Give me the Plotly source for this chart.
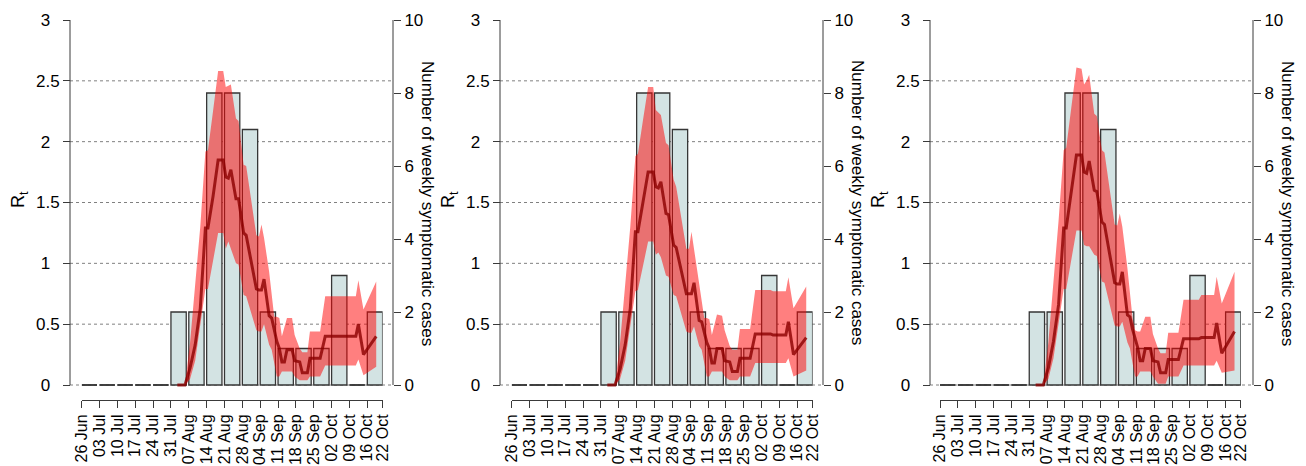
import plotly.graph_objects as go


# ======================================================
# Data  (x positions are days since 26 Jun)
# ======================================================
TICK_DAYS = [0, 7, 14, 21, 28, 35, 42, 49, 56, 63, 70, 77, 84, 91, 98, 105, 112, 118]
TICK_LABELS = ["26 Jun", "03 Jul", "10 Jul", "17 Jul", "24 Jul", "31 Jul", "07 Aug",
               "14 Aug", "21 Aug", "28 Aug", "04 Sep", "11 Sep", "18 Sep", "25 Sep",
               "02 Oct", "09 Oct", "16 Oct", "22 Oct"]

WEEK_START = [0, 7, 14, 21, 28, 35, 42, 49, 56, 63, 70, 77, 84, 91, 98, 105, 112]
WEEKLY_CASES = [0, 0, 0, 0, 0, 2, 2, 8, 8, 7, 2, 1, 1, 1, 3, 0, 2]

RT_DAYS = [37.5, 40.5, 42.5, 44.5, 46.5, 48.5, 49.5, 51.5, 53.5, 55.5, 56.5, 57.5,
           58.5, 60.5, 61.5, 63.5, 64.5, 68.5, 69.5, 70.5, 71.5, 73.5, 74.5, 75.5,
           76.5, 77.5, 78.5, 79.5, 80.5, 82.5, 83.5, 85.5, 86.5, 88.5, 89.5, 93.5,
           95.5, 101.5, 102.5, 107.5, 108.5, 110.5, 115.5]

RT_MEAN_1 = [0, 0, 0.14, 0.33, 0.63, 1.29, 1.29, 1.55, 1.85, 1.85, 1.71, 1.70,
             1.77, 1.53, 1.53, 1.25, 1.23, 0.79, 0.78, 0.78, 0.87, 0.57, 0.55, 0.45,
             0.36, 0.30, 0.19, 0.19, 0.29, 0.29, 0.20, 0.19, 0.10, 0.10, 0.22, 0.22,
             0.40, 0.40, 0.40, 0.40, 0.50, 0.25, 0.40]
RT_HIGH_1 = [0, 0, 0.35, 0.80, 1.30, 1.92, 1.93, 2.25, 2.58, 2.58, 2.45, 2.46,
             2.47, 2.19, 2.17, 1.81, 1.80, 1.23, 1.22, 1.32, 1.21, 0.93, 0.75, 0.56,
             0.56, 0.55, 0.40, 0.48, 0.55, 0.55, 0.41, 0.30, 0.27, 0.27, 0.44, 0.44,
             0.73, 0.73, 0.73, 0.73, 0.86, 0.62, 0.85]
RT_LOW_1 = [0, 0, 0.05, 0.20, 0.50, 0.79, 0.79, 1.02, 1.25, 1.25, 1.12, 1.18,
            1.12, 1.00, 0.99, 0.74, 0.73, 0.45, 0.44, 0.44, 0.50, 0.33, 0.29, 0.18,
            0.07, 0.07, 0.11, 0.11, 0.11, 0.11, 0.07, 0.04, 0.04, 0.04, 0.07, 0.07,
            0.16, 0.16, 0.16, 0.16, 0.21, 0.08, 0.15]

RT_MEAN_2 = [0, 0, 0.13, 0.33, 0.63, 1.26, 1.26, 1.50, 1.75, 1.75, 1.63, 1.62,
             1.67, 1.41, 1.40, 1.15, 1.13, 0.75, 0.75, 0.75, 0.84, 0.53, 0.52, 0.43,
             0.35, 0.30, 0.18, 0.18, 0.30, 0.30, 0.20, 0.19, 0.11, 0.11, 0.22, 0.22,
             0.42, 0.42, 0.41, 0.41, 0.52, 0.25, 0.39]
RT_HIGH_2 = [0, 0, 0.35, 0.80, 1.30, 1.88, 1.90, 2.18, 2.45, 2.45, 2.26, 2.24,
             2.22, 1.99, 1.97, 1.69, 1.63, 1.12, 1.12, 1.26, 1.12, 0.87, 0.70, 0.55,
             0.55, 0.54, 0.41, 0.50, 0.58, 0.57, 0.45, 0.32, 0.29, 0.29, 0.46, 0.46,
             0.78, 0.78, 0.77, 0.77, 0.885, 0.63, 0.81]
RT_LOW_2 = [0, 0, 0.05, 0.20, 0.48, 0.77, 0.78, 0.98, 1.18, 1.18, 1.07, 1.09,
            1.05, 0.90, 0.89, 0.74, 0.73, 0.44, 0.43, 0.43, 0.48, 0.32, 0.29, 0.18,
            0.07, 0.07, 0.11, 0.11, 0.11, 0.11, 0.07, 0.04, 0.04, 0.04, 0.07, 0.07,
            0.18, 0.18, 0.18, 0.18, 0.22, 0.07, 0.12]

RT_MEAN_3 = [0, 0, 0.14, 0.36, 0.66, 1.29, 1.29, 1.60, 1.89, 1.89, 1.75, 1.74,
             1.84, 1.60, 1.59, 1.34, 1.32, 0.84, 0.83, 0.83, 0.93, 0.575, 0.56, 0.46,
             0.38, 0.31, 0.20, 0.20, 0.30, 0.30, 0.20, 0.19, 0.10, 0.10, 0.21, 0.21,
             0.38, 0.38, 0.39, 0.39, 0.51, 0.26, 0.44]
RT_HIGH_3 = [0, 0, 0.35, 0.82, 1.35, 1.93, 1.95, 2.28, 2.61, 2.60, 2.47, 2.50,
             2.55, 2.23, 2.21, 1.93, 1.91, 1.32, 1.31, 1.41, 1.30, 0.96, 0.75, 0.55,
             0.45, 0.44, 0.44, 0.50, 0.56, 0.56, 0.42, 0.30, 0.26, 0.26, 0.43, 0.43,
             0.70, 0.70, 0.74, 0.74, 0.89, 0.67, 0.93]
RT_LOW_3 = [0, 0, 0.05, 0.22, 0.50, 0.79, 0.79, 1.03, 1.27, 1.27, 1.15, 1.14,
            1.14, 1.07, 1.06, 0.85, 0.84, 0.49, 0.48, 0.48, 0.52, 0.35, 0.30, 0.18,
            0.07, 0.07, 0.11, 0.11, 0.11, 0.11, 0.07, 0.01, 0.01, 0.01, 0.07, 0.07,
            0.16, 0.16, 0.16, 0.16, 0.20, 0.10, 0.12]

RT_TICKS = [0, 0.5, 1, 1.5, 2, 2.5, 3]
RT_GRID = [0, 0.5, 1, 1.5, 2, 2.5]
CASE_TICKS = [0, 2, 4, 6, 8, 10]

PANELS = [
    (RT_MEAN_1, RT_LOW_1, RT_HIGH_1),
    (RT_MEAN_2, RT_LOW_2, RT_HIGH_2),
    (RT_MEAN_3, RT_LOW_3, RT_HIGH_3),
]


# ======================================================
# Geometry (pixels of the 1306 x 466 page)
# ======================================================
W, H = 1306, 466
PANEL_OFFSET = [0, 430, 860]
X_SHIFT = [0, 0, -1.7]
Y_TOP, Y_ZERO = 20, 385          # pixel rows of R=3 and R=0
RT_MAX, RT_MIN = 3.0, -0.03
CASE_MAX, CASE_MIN = 10.0, -0.1
PX_PER_RT = (Y_ZERO - Y_TOP) / RT_MAX
Y_BOTTOM = Y_ZERO - RT_MIN * PX_PER_RT

BAR_FILL = "#d3e3e3"
BAR_EDGE = "#363636"
RIBBON = "rgba(255,0,0,0.5)"
LINE = "rgba(139,0,0,0.8)"
AXIS = "#3a3a3a"
FONT = "Liberation Sans, Arial, sans-serif"
NBSP = "\u00a0"


def px(x):
    return x / W


def py(y):
    return 1 - y / H


def rt_label(v):
    # R draws these labels centred; pad the short ones so they sit the same way
    s = f"{v:g}"
    return s if "." in s else s + NBSP * 2


fig = go.Figure()
shapes = []
annotations = []
layout = {}

for i, (mean, low, high) in enumerate(PANELS):
    off = PANEL_OFFSET[i]
    xname = "x" if i == 0 else f"x{i + 1}"
    ycase = "y" if i == 0 else f"y{2 * i + 1}"
    yrt = f"y{2 * i + 2}"

    # weekly case bars (right axis)
    fig.add_trace(go.Bar(
        x=[d + 3 for d in WEEK_START],
        y=WEEKLY_CASES,
        width=6,
        marker=dict(color=BAR_FILL, line=dict(color=BAR_EDGE, width=1.3)),
        xaxis=xname, yaxis=ycase, hoverinfo="skip",
    ))

    # weeks with no cases show only the bar outline on the baseline
    zx, zy = [], []
    for d, c in zip(WEEK_START, WEEKLY_CASES):
        if c == 0:
            zx += [d, d + 6, None]
            zy += [0, 0, None]
    fig.add_trace(go.Scatter(
        x=zx, y=zy, mode="lines",
        line=dict(color=BAR_EDGE, width=1.3),
        xaxis=xname, yaxis=ycase, hoverinfo="skip",
    ))

    # Rt credible interval and mean
    fig.add_trace(go.Scatter(
        x=RT_DAYS + RT_DAYS[::-1],
        y=high + low[::-1],
        mode="lines", fill="toself", fillcolor=RIBBON,
        line=dict(width=0),
        xaxis=xname, yaxis=yrt, hoverinfo="skip",
    ))
    fig.add_trace(go.Scatter(
        x=RT_DAYS, y=mean, mode="lines",
        line=dict(color=LINE, width=3),
        xaxis=xname, yaxis=yrt,
    ))

    tickfont = dict(family=FONT, size=17, color="black")
    ydom = [py(Y_BOTTOM), py(Y_TOP)]

    layout["xaxis" if i == 0 else f"xaxis{i + 1}"] = dict(
        domain=[px(81.7 + off + X_SHIFT[i]), px(382.6 + off + X_SHIFT[i])],
        range=[0, 118], anchor="free", position=py(400), automargin=False,
        showline=True, linecolor=AXIS, linewidth=1,
        ticks="outside", ticklen=7, tickcolor=AXIS,
        tickvals=TICK_DAYS, ticktext=TICK_LABELS, tickangle=-90,
        tickfont=dict(family=FONT, size=16, color="black"),
        showgrid=False, zeroline=False,
    )
    layout["yaxis" if i == 0 else f"yaxis{2 * i + 1}"] = dict(
        domain=ydom, range=[CASE_MIN, CASE_MAX], side="right",
        anchor="free", position=px(393 + off), automargin=False,
        ticks="outside", ticklen=7, tickcolor=AXIS,
        tickvals=CASE_TICKS, tickfont=tickfont,
        showline=False, showgrid=False, zeroline=False,
    )
    layout[f"yaxis{2 * i + 2}"] = dict(
        domain=ydom, range=[RT_MIN, RT_MAX], side="left",
        overlaying=ycase, anchor="free", position=px(70 + off), automargin=False,
        ticks="outside", ticklen=7, tickcolor=AXIS,
        tickvals=RT_TICKS, ticktext=[rt_label(v) for v in RT_TICKS],
        tickfont=tickfont, showline=False, showgrid=False, zeroline=False,
    )

    # axis lines and dotted gridlines
    for xl in (70 + off, 393 + off):
        shapes.append(dict(type="line", xref="paper", yref="paper",
                           x0=px(xl), x1=px(xl), y0=py(Y_TOP), y1=py(Y_ZERO),
                           line=dict(color=AXIS, width=1)))
    for r in RT_GRID:
        yy = py(Y_ZERO - r * PX_PER_RT)
        shapes.append(dict(type="line", xref="paper", yref="paper", layer="below",
                           x0=px(70 + off), x1=px(393 + off), y0=yy, y1=yy,
                           line=dict(color="#808080", width=1, dash="dot")))

    annotations.append(dict(
        text="R<sub>t</sub>", xref="paper", yref="paper",
        x=px(19 + off), y=py(200), xanchor="center", yanchor="middle",
        textangle=-90, showarrow=False,
        font=dict(family=FONT, size=18, color="black"),
    ))
    annotations.append(dict(
        text="Number of weekly symptomatic cases", xref="paper", yref="paper",
        x=px(428 + off), y=py(203), xanchor="center", yanchor="middle",
        textangle=90, showarrow=False,
        font=dict(family=FONT, size=17, color="black"),
    ))

fig.update_layout(
    **layout,
    shapes=shapes,
    annotations=annotations,
    showlegend=False,
    width=W, height=H,
    margin=dict(l=0, r=0, t=0, b=0),
    paper_bgcolor="white",
    plot_bgcolor="rgba(0,0,0,0)",
    barmode="overlay",
)

fig.write_html("out.html", config={"displayModeBar": False},
               post_script="document.body.style.margin='0px';")
